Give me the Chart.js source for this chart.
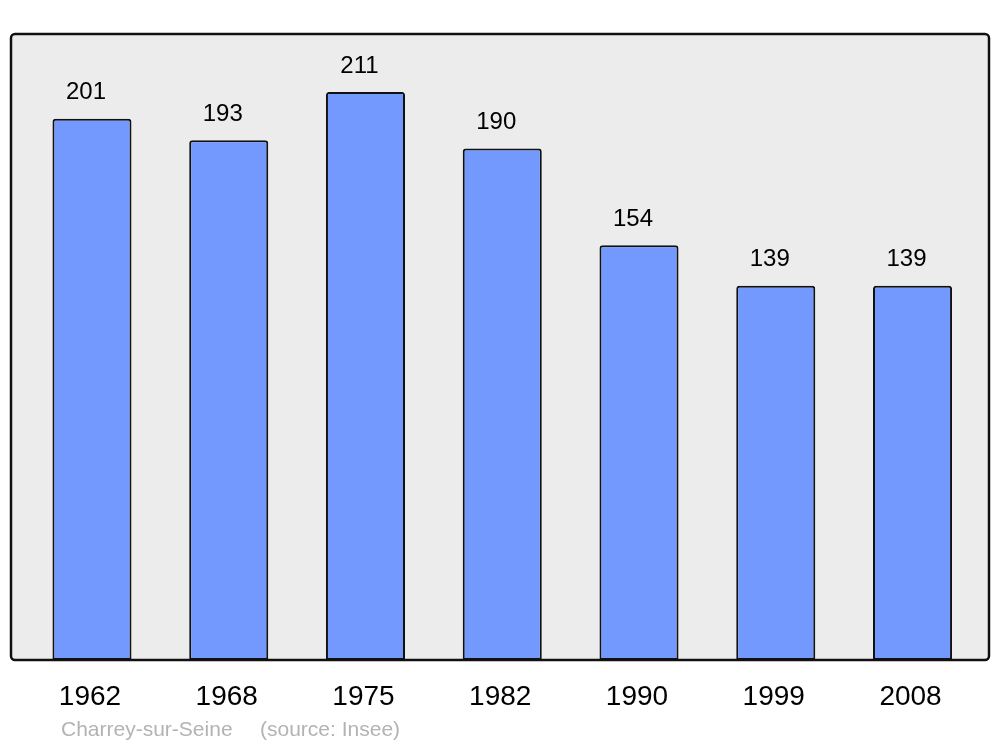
<!DOCTYPE html>
<html>
<head>
<meta charset="utf-8">
<script src="https://cdn.jsdelivr.net/npm/chart.js@4"></script>
<style>
  html, body { margin: 0; padding: 0; background: #fff; }
  #wrap { width: 1000px; height: 747px; position: relative; }
</style>
</head>
<body>
<div id="wrap"><canvas id="popChart" width="1000" height="747"></canvas></div>
<script>
// data
const years = ['1962', '1968', '1975', '1982', '1990', '1999', '2008'];
const population = [201, 193, 211, 190, 154, 139, 139];
const yMax = 232.5;
const townName = 'Charrey-sur-Seine';
const sourceText = '(source: Insee)';

const FONT = '"Liberation Sans", Arial, sans-serif';

// grey frame behind the bars, black border on top
const framePlugin = {
  id: 'frame',
  beforeDraw(chart) {
    const ctx = chart.ctx;
    ctx.save();
    ctx.fillStyle = '#ececec';
    ctx.beginPath();
    ctx.roundRect(11, 34, 978, 626, 4);
    ctx.fill();
    ctx.restore();
  },
  afterDraw(chart) {
    const ctx = chart.ctx;
    ctx.save();
    ctx.strokeStyle = '#111';
    ctx.lineWidth = 2.5;
    ctx.beginPath();
    ctx.roundRect(11, 34, 978, 626, 4);
    ctx.stroke();

    // footer
    ctx.fillStyle = '#b3b3b3';
    ctx.font = '21px ' + FONT;
    ctx.textBaseline = 'middle';
    ctx.fillText(townName, 61, 730);
    ctx.fillText(sourceText, 260, 730);
    ctx.restore();
  }
};

// values above each bar
const valueLabels = {
  id: 'valueLabels',
  afterDatasetsDraw(chart) {
    const ctx = chart.ctx;
    const meta = chart.getDatasetMeta(0);
    ctx.save();
    ctx.fillStyle = '#000';
    ctx.font = '24px ' + FONT;
    ctx.textAlign = 'center';
    ctx.textBaseline = 'middle';
    meta.data.forEach((bar, i) => {
      ctx.fillText(String(population[i]), bar.x - 6, bar.y - 26);
    });
    ctx.restore();
  }
};

new Chart(document.getElementById('popChart'), {
  type: 'bar',
  data: {
    labels: years,
    datasets: [{
      data: population,
      backgroundColor: '#7399ff',
      borderColor: '#111',
      borderWidth: 2,
      borderRadius: { topLeft: 3, topRight: 3, bottomLeft: 0, bottomRight: 0 },
      borderSkipped: false,
      categoryPercentage: 1,
      barPercentage: 0.578
    }]
  },
  options: {
    responsive: false,
    animation: false,
    events: [],
    layout: { padding: { left: 23.6, right: 19.1, top: 34, bottom: 0 } },
    plugins: {
      legend: { display: false },
      tooltip: { enabled: false }
    },
    scales: {
      x: {
        grid: { display: false, drawTicks: false },
        border: { display: false },
        ticks: {
          color: '#000',
          font: { family: FONT, size: 28 },
          padding: 20,
          labelOffset: -2,
          maxRotation: 0
        },
        afterFit(scale) { scale.height = 87; }
      },
      y: {
        display: false,
        min: 0,
        max: yMax
      }
    }
  },
  plugins: [framePlugin, valueLabels]
});
</script>
</body>
</html>
